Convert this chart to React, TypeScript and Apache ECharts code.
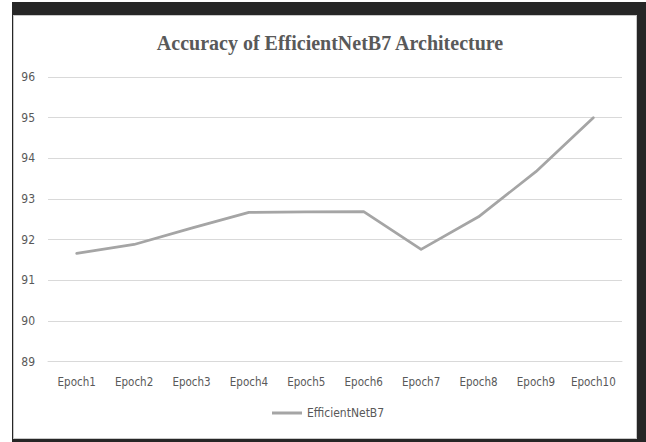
import React, { useEffect, useRef } from "react";
import * as echarts from "echarts";

// Accuracy per training epoch
const categories = [
  "Epoch1", "Epoch2", "Epoch3", "Epoch4", "Epoch5",
  "Epoch6", "Epoch7", "Epoch8", "Epoch9", "Epoch10",
];
const accuracy = [91.66, 91.88, 92.28, 92.67, 92.68, 92.69, 91.76, 92.56, 93.67, 95.0];
const seriesName = "EfficientNetB7";
const titleText = "Accuracy of EfficientNetB7 Architecture";
const yMin = 89;
const yMax = 96;
const yStep = 1;

const W = 646;
const H = 442;
const textGray = "#595959";
const gridGray = "#d9d9d9";
const lineGray = "#a5a5a5";
const labelFont = "'DejaVu Sans Condensed', 'Liberation Sans Narrow', sans-serif";

export default function App() {
  const ref = useRef<HTMLDivElement>(null);

  useEffect(() => {
    if (!ref.current) return;
    const chart = echarts.init(ref.current, undefined, { renderer: "svg", width: W, height: H });
    chart.setOption({
      animation: false,
      title: {
        text: titleText,
        left: 325,
        textAlign: "center",
        top: 28,
        textStyle: {
          fontFamily: "'Liberation Serif', 'Times New Roman', serif",
          fontWeight: "bold",
          fontSize: 20,
          color: textGray,
        },
      },
      legend: {
        data: [{ name: seriesName, icon: "rect" }],
        left: 267,
        top: 402,
        itemWidth: 30,
        itemHeight: 3,
        textStyle: { fontFamily: labelFont, fontSize: 12, color: textGray },
      },
      grid: { left: 48, right: 24, top: 77, bottom: 80.5, containLabel: false },
      xAxis: {
        type: "category",
        data: categories,
        boundaryGap: true,
        axisLine: { show: true, lineStyle: { color: gridGray, width: 1 } },
        axisTick: { show: false },
        axisLabel: {
          margin: 14,
          fontFamily: labelFont,
          fontSize: 11.5,
          color: textGray,
          interval: 0,
        },
      },
      yAxis: {
        type: "value",
        min: yMin,
        max: yMax,
        interval: yStep,
        axisLine: { show: false },
        axisTick: { show: false },
        splitLine: { lineStyle: { color: gridGray, width: 1 } },
        axisLabel: {
          margin: 13,
          fontFamily: labelFont,
          fontSize: 12,
          color: textGray,
        },
      },
      series: [
        {
          name: seriesName,
          type: "line",
          data: accuracy,
          symbol: "none",
          lineStyle: { color: lineGray, width: 2.75, cap: "round", join: "round" },
          itemStyle: { color: lineGray },
        },
      ],
    });
    return () => chart.dispose();
  }, []);

  return (
    <div style={{ position: "fixed", left: 0, top: 0, width: W, height: H, background: "#fff" }}>
      <div
        style={{
          position: "absolute",
          left: 12,
          top: 2,
          width: 634,
          height: 440,
          background: "#262626",
        }}
      />
      <div
        style={{
          position: "absolute",
          left: 13,
          top: 15,
          width: 624,
          height: 424,
          background: "#fff",
          border: "1px solid #c8c8c8",
          boxSizing: "border-box",
        }}
      />
      <div ref={ref} style={{ position: "absolute", left: 0, top: 0, width: W, height: H }} />
    </div>
  );
}
